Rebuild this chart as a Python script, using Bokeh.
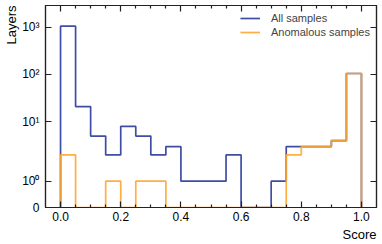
import numpy as np
from bokeh.plotting import figure
from bokeh.models import Range1d, LinearAxis, FixedTicker, Title
from bokeh.embed import file_html
from bokeh.resources import INLINE

# ---- data ----
bin_edges = [0.0, 0.05, 0.1, 0.15, 0.2, 0.25, 0.3, 0.35, 0.4, 0.45, 0.5,
             0.55, 0.6, 0.65, 0.7, 0.75, 0.8, 0.85, 0.9, 0.95, 1.0]
all_counts = [1050, 21, 5, 2, 8, 5, 2, 3, 1, 1, 1, 2, 0, 0, 1, 3, 3, 3, 4, 105]
anom_counts = [2, 0, 0, 1, 0, 1, 1, 0, 0, 0, 0, 0, 0, 0, 0, 2, 3, 3, 4, 105]
series_names = ["All samples", "Anomalous samples"]
series_colors = ["#2a3a98", "#ffa52c"]

xtick_values = [0.0, 0.2, 0.4, 0.6, 0.8, 1.0]
xtick_labels = ["0.0", "0.2", "0.4", "0.6", "0.8", "1.0"]
ytick_values = [0, 1, 10, 100, 1000]
ytick_labels = ["0", "10\u2070", "10\u00b9", "10\u00b2", "10\u00b3"]
x_title = "Score"
y_title = "Layers"

LINTHRESH = 2.0
LINSCALE = 1.0
FONT = "Liberation Sans"


def symlog(v):
    """matplotlib-style symmetric log transform (positive side)."""
    v = np.asarray(v, dtype=float)
    adj = LINSCALE / (1.0 - 1.0 / 10.0)
    out = np.where(v <= LINTHRESH, v * adj,
                   LINTHRESH * (adj + np.log10(np.maximum(v, 1e-12) / LINTHRESH)))
    return out


def step_xy(edges, counts):
    xs, ys = [edges[0]], [0.0]
    for i, c in enumerate(counts):
        xs += [edges[i], edges[i + 1]]
        ys += [c, c]
    xs.append(edges[-1])
    ys.append(0.0)
    return xs, [float(v) for v in symlog(ys)]


p = figure(width=378, height=242,
           x_range=Range1d(-0.05, 1.05), y_range=Range1d(0, 8.535),
           output_backend="svg", toolbar_location=None,
           min_border_left=44, min_border_right=2,
           min_border_top=5, min_border_bottom=34)
p.xgrid.visible = False
p.ygrid.visible = False
p.outline_line_color = "#222222"
p.outline_line_width = 1.2

x_minor = [e for e in bin_edges if all(abs(e - t) > 1e-9 for t in xtick_values)]
xticker = FixedTicker(ticks=xtick_values, minor_ticks=x_minor)
yticks_t = [float(v) for v in symlog(ytick_values)]
yticker = FixedTicker(ticks=yticks_t, minor_ticks=[])


def style_axis(ax, ticker, labels=None):
    ax.ticker = ticker
    ax.axis_line_width = 1.2
    ax.axis_line_color = "#222222"
    ax.major_tick_in = 6
    ax.major_tick_out = 0
    ax.minor_tick_in = 3
    ax.minor_tick_out = 0
    ax.major_tick_line_width = 1.2
    ax.minor_tick_line_width = 1.2
    ax.major_tick_line_color = "#222222"
    ax.minor_tick_line_color = "#222222"
    ax.major_label_text_font = FONT
    ax.major_label_text_font_size = "12px"
    ax.major_label_text_color = "black"
    if labels is None:
        ax.major_label_overrides = {t: "" for t in ticker.ticks}
        ax.major_label_standoff = 0
    else:
        ax.major_label_overrides = {t: l for t, l in zip(ticker.ticks, labels)}


xa = p.xaxis[0]
style_axis(xa, xticker, xtick_labels)
xa.major_label_standoff = 4
ya = p.yaxis[0]
style_axis(ya, yticker, ytick_labels)
ya.major_label_standoff = 6

top = LinearAxis()
style_axis(top, xticker)
p.add_layout(top, "above")
right = LinearAxis()
style_axis(right, yticker)
p.add_layout(right, "right")

for counts, name, color in zip([all_counts, anom_counts], series_names, series_colors):
    xs, ys = step_xy(bin_edges, counts)
    p.line(xs, ys, line_color=color, line_width=1.7, line_alpha=0.9,
           legend_label=name)

leg = p.legend[0]
leg.location = "top_right"
leg.border_line_color = None
leg.background_fill_alpha = 0
leg.label_text_font = FONT
leg.label_text_font_size = "11px"
leg.glyph_width = 20
leg.glyph_height = 14
leg.label_height = 14
leg.label_standoff = 11
leg.spacing = 0
leg.padding = 5
leg.margin = 6

ytitle = Title(text=y_title, align="right", text_font=FONT, text_font_size="13px",
               text_font_style="normal", text_color="black", standoff=2, offset=0)
p.add_layout(ytitle, "left")
xtitle = Title(text=x_title, align="right", text_font=FONT, text_font_size="13px",
               text_font_style="normal", text_color="black", standoff=2, offset=0)
p.add_layout(xtitle, "below")

open("out.html", "w").write(file_html(p, INLINE))
